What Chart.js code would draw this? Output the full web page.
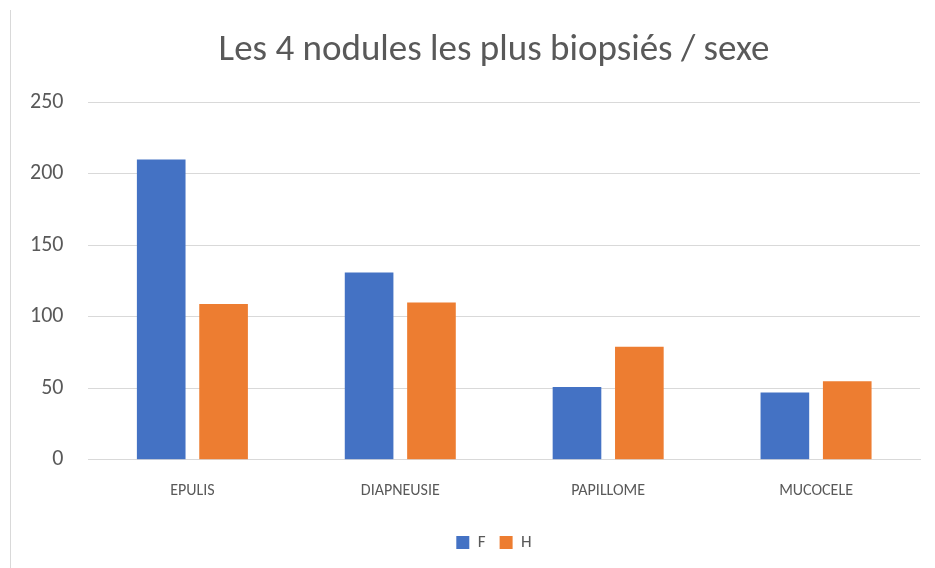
<!DOCTYPE html>
<html>
<head>
<meta charset="utf-8">
<script src="https://cdn.jsdelivr.net/npm/chart.js@4/dist/chart.umd.min.js"></script>
<style>
  html, body { margin: 0; padding: 0; background: #fff; overflow: hidden; }
  #wrap { position: relative; width: 935px; height: 568px; overflow: hidden; }
  #edge { position: absolute; left: 10px; top: 10px; bottom: 0; width: 1px; background: #d9d9d9; z-index: 2; }
  canvas { position: absolute; left: 0; top: 0; }
</style>
</head>
<body>
<div id="wrap">
  <div id="edge"></div>
  <canvas id="chart" width="990" height="568"></canvas>
</div>
<script>
// donnees
var categories = ['EPULIS', 'DIAPNEUSIE', 'PAPILLOME', 'MUCOCELE'];
var femmes = [210, 131, 51, 47];
var hommes = [109, 110, 79, 55];
var yTicks = [0, 50, 100, 150, 200, 250];

var fontFam = "Carlito, Lato, 'Liberation Sans', sans-serif";

var ctx = document.getElementById('chart').getContext('2d');
var chart = new Chart(ctx, {
    type: 'bar',
    data: {
        labels: categories,
        datasets: [
            { label: 'F', data: femmes, backgroundColor: '#4472C4', borderColor: '#4472C4', borderWidth: 0 },
            { label: 'H', data: hommes, backgroundColor: '#ED7D31', borderColor: '#ED7D31', borderWidth: 0 }
        ]
    },
    options: {
        responsive: false,
        animation: false,
        layout: { padding: { left: 5, right: 7, top: 10, bottom: 7 } },
        datasets: {
            bar: { categoryPercentage: 0.6, barPercentage: 0.78 }
        },
        plugins: {
            title: {
                display: true,
                text: 'Les 4 nodules les plus biopsiés / sexe',
                color: '#595959',
                font: { family: fontFam, size: 37, weight: 'normal' },
                padding: { top: 19, bottom: 29 }
            },
            legend: {
                position: 'bottom',
                labels: {
                    color: '#595959',
                    font: { family: fontFam, size: 17 },
                    boxWidth: 13,
                    boxHeight: 13,
                    padding: 14
                }
            },
            tooltip: { enabled: false }
        },
        scales: {
            x: {
                grid: { display: false },
                border: { color: '#d9d9d9' },
                ticks: { color: '#595959', font: { family: fontFam, size: 16 }, padding: 14 },
                afterFit: function (axis) { axis.height += 5; }
            },
            y: {
                min: 0,
                max: 250,
                afterBuildTicks: function (axis) {
                    axis.ticks = yTicks.map(function (v) { return { value: v }; });
                },
                grid: { color: '#d9d9d9', drawTicks: false },
                border: { display: false },
                ticks: { color: '#595959', font: { family: fontFam, size: 22 }, padding: 25 }
            },
            // axe vide a droite, juste pour garder de la marge
            yDroite: {
                position: 'right',
                grid: { display: false },
                border: { display: false },
                ticks: { display: false },
                afterFit: function (axis) { axis.width = 63; }
            }
        }
    }
});
</script>
</body>
</html>
